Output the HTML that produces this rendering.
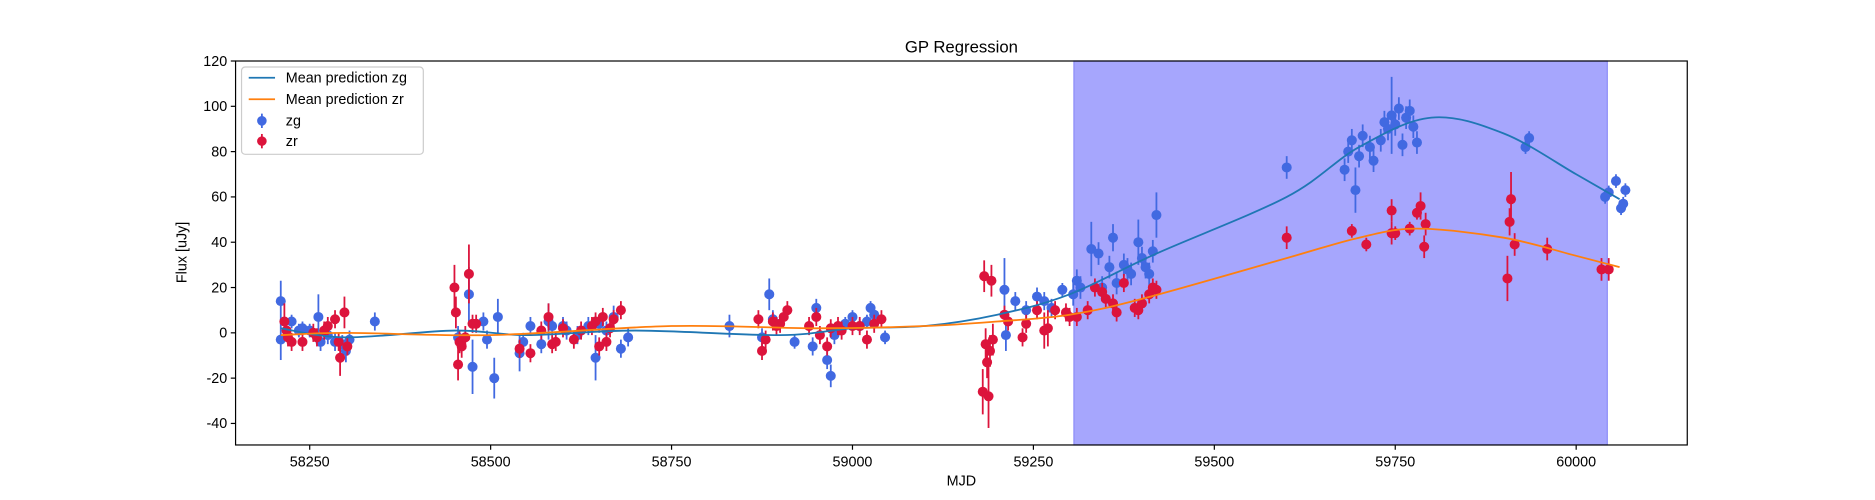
<!DOCTYPE html>
<html><head><meta charset="utf-8"><style>
html,body{margin:0;padding:0;background:#fff;width:1875px;height:500px;overflow:hidden;}
svg{display:block;position:absolute;left:0;top:0;}
svg text{font-family:"Liberation Sans","DejaVu Sans",sans-serif;fill:#000;}
</style></head><body>
<svg id="chart" width="1875" height="500" viewBox="0 0 1568 418" preserveAspectRatio="none" xmlns="http://www.w3.org/2000/svg">
<rect width="1568" height="418" fill="#fff"/>
<g id="plot"></g>
<text x="804" y="44" text-anchor="middle" font-size="14">GP Regression</text>
<text x="804" y="406" text-anchor="middle" font-size="12">MJD</text>
<text x="156" y="211" text-anchor="middle" font-size="12" transform="rotate(-90 156 211)">Flux [uJy]</text>
<g>
<rect x="202" y="56" width="152" height="73" rx="3" fill="#fff" fill-opacity="0.8" stroke="#ccc"/>
<line x1="208" x2="230" y1="65" y2="65" stroke="#1f77b4" stroke-width="1.5"/>
<text x="239" y="69" font-size="12">Mean prediction zg</text>
<line x1="208" x2="230" y1="83" y2="83" stroke="#ff7f0e" stroke-width="1.5"/>
<text x="239" y="87" font-size="12">Mean prediction zr</text>
<line x1="219" x2="219" y1="95" y2="107" stroke="#4169e1" stroke-width="1.5"/>
<circle cx="219" cy="101" r="4" fill="#4169e1"/>
<text x="239" y="105" font-size="12">zg</text>
<line x1="219" x2="219" y1="112" y2="124" stroke="#dc143c" stroke-width="1.5"/>
<circle cx="219" cy="118" r="4" fill="#dc143c"/>
<text x="239" y="122" font-size="12">zr</text>
</g>
</svg>
<script>
const zgMjd=[58210,58210,58225,58235,58240,58250,58262,58265,58275,58285,58295,58300,58305,58340,58455,58470,58475,58490,58495,58505,58510,58540,58545,58555,58570,58580,58585,58600,58605,58620,58635,58645,58650,58660,58670,58680,58690,58830,58875,58885,58890,58920,58945,58950,58965,58970,58975,58980,58990,59000,59010,59020,59025,59030,59045,59210,59212,59225,59240,59255,59265,59275,59290,59305,59310,59315,59330,59340,59345,59355,59360,59365,59375,59380,59385,59395,59400,59405,59410,59415,59420,59600,59680,59685,59690,59695,59700,59705,59715,59720,59730,59735,59740,59745,59750,59755,59760,59765,59770,59775,59780,59930,59935,60040,60045,60055,60062,60065,60068];
const zgFlux=[14,-3,5,1,2,1,7,-4,-1,-4,-5,-8,-3,5,-2,17,-15,5,-3,-20,7,-9,-4,3,-5,5,3,3,1,-1,3,-11,4,1,7,-7,-2,3,-2,17,6,-4,-6,11,-12,-19,-1,2,4,7,3,5,11,8,-2,19,-1,14,10,16,14,11,19,17,23,20,37,35,20,29,42,22,30,28,26,40,33,29,26,36,52,73,72,80,85,63,78,87,82,76,85,93,90,96,92,99,83,95,98,91,84,82,86,60,62,67,55,57,63];
const zgErr=[9,9,3,3,3,3,10,4,4,4,4,5,4,4,5,12,12,4,4,9,8,8,4,4,4,8,4,4,4,4,4,10,4,4,5,4,4,5,4,7,4,3,4,4,4,5,4,3,3,3,3,3,3,3,3,14,7,4,4,4,4,4,3,5,5,5,12,5,5,5,6,5,5,5,5,10,5,5,5,5,10,5,5,5,5,10,5,5,5,5,5,5,5,17,5,5,5,5,5,5,5,3,3,3,3,3,3,3,3];
const zrMjd=[58215,58218,58220,58225,58240,58255,58260,58270,58275,58285,58290,58292,58298,58302,58450,58452,58455,58457,58460,58465,58470,58475,58480,58540,58555,58570,58580,58585,58590,58600,58615,58625,58640,58645,58650,58655,58660,58665,58670,58680,58870,58875,58880,58890,58895,58900,58905,58910,58940,58950,58955,58965,58970,58980,58985,59000,59010,59020,59030,59040,59180,59182,59184,59186,59188,59190,59192,59194,59210,59215,59235,59240,59255,59265,59270,59280,59295,59300,59310,59325,59335,59345,59350,59360,59365,59375,59390,59395,59400,59410,59415,59420,59600,59690,59710,59745,59745,59750,59770,59780,59785,59790,59792,59905,59908,59910,59915,59960,60035,60045];
const zrFlux=[5,1,-2,-4,-4,0,-2,1,3,6,-4,-11,9,-6,20,9,-14,-4,-6,-2,26,4,4,-7,-9,1,7,-5,-4,2,-3,1,3,5,-6,7,-4,2,6,10,6,-8,-3,5,3,4,7,10,3,7,-1,-6,2,3,1,3,3,-3,4,6,-26,25,-5,-13,-28,-8,23,-3,8,5,-2,4,10,1,2,10,9,7,7,10,20,18,15,13,9,22,11,10,13,17,20,19,42,45,39,44,54,44,46,53,56,38,48,24,49,59,39,37,28,28];
const zrErr=[8,4,4,4,4,4,4,4,4,4,4,8,7,4,10,7,7,5,5,5,13,4,4,4,4,4,6,4,4,4,4,4,4,4,4,4,4,4,4,4,4,4,4,4,4,4,4,4,4,4,4,4,4,4,4,4,4,4,4,4,10,7,7,7,14,7,7,7,4,4,4,4,4,8,8,4,4,4,4,4,4,4,4,4,4,4,4,4,4,4,4,4,5,3,3,5,5,3,3,3,6,5,5,10,6,12,5,5,5,5];
const zgMeanX=[58210,58300,58450,58550,58700,58900,59000,59100,59200,59300,59420,59600,59700,59800,59900,60000,60060];
const zgMeanY=[2,-2,1,-1,1,-1,2,3,8,17,35,60,82,95,88,70,59];
const zrMeanX=[58210,58300,58500,58750,58950,59100,59200,59300,59400,59600,59700,59780,59900,60000,60060];
const zrMeanY=[-1,0,-1,3,2,3,5,8,15,33,42,46,42,34,29];
const xTicks=[58250,58500,58750,59000,59250,59500,59750,60000];
const yTicks=[-40,-20,0,20,40,60,80,100,120];
const band=[59306,60043];

const L=197,R=1411,T=51,B=372;
const xS=v=>259+(v-58250)*151.3/250;
const yS=v=>278.25-v*37.875/20;
const NS="http://www.w3.org/2000/svg";
const g=document.getElementById('plot');
function mk(t,a,p){const e=document.createElementNS(NS,t);for(const k in a)e.setAttribute(k,a[k]);(p||g).appendChild(e);return e;}

const bandEl=mk('rect',{x:xS(band[0]),y:T,width:xS(band[1])-xS(band[0]),height:B-T,fill:'#a6a6fd',stroke:'#8c8cf8'});



function curve(xs,ys,color,name){
  const pts=xs.map((x,i)=>[xS(x),yS(ys[i])]);
  let d='M'+pts[0][0]+','+pts[0][1];
  for(let i=0;i<pts.length-1;i++){
    const p0=pts[Math.max(0,i-1)],p1=pts[i],p2=pts[i+1],p3=pts[Math.min(pts.length-1,i+2)];
    d+=' C'+(p1[0]+(p2[0]-p0[0])/6)+','+(p1[1]+(p2[1]-p0[1])/6)+' '+(p2[0]-(p3[0]-p1[0])/6)+','+(p2[1]-(p3[1]-p1[1])/6)+' '+p2[0]+','+p2[1];
  }
  const e=mk('path',{d:d,fill:'none',stroke:color,'stroke-width':1.5});
  
  
}
function points(xs,ys,es,color,name){
  const grp=mk('g',{});
  
  
  xs.forEach((x,i)=>{
    mk('line',{x1:xS(x),x2:xS(x),y1:yS(ys[i]-es[i]),y2:yS(ys[i]+es[i]),stroke:color,'stroke-width':1.5},grp);
    const c=mk('circle',{cx:xS(x),cy:yS(ys[i]),r:4.2,fill:color},grp);
    
    
  });
}
points(zgMjd,zgFlux,zgErr,'#4169e1','zg-points');
points(zrMjd,zrFlux,zrErr,'#dc143c','zr-points');
curve(zgMeanX,zgMeanY,'#1f77b4','zg-mean-line');
curve(zrMeanX,zrMeanY,'#ff7f0e','zr-mean-line');

const frame=mk('rect',{x:L,y:T,width:R-L,height:B-T,fill:'none',stroke:'#000','stroke-width':1});


xTicks.forEach(v=>{
  mk('line',{x1:xS(v),x2:xS(v),y1:B,y2:B+4,stroke:'#000'});
  const t=mk('text',{x:xS(v),y:B+18,'text-anchor':'middle','font-size':12});
  t.textContent=v;
  
  
});
yTicks.forEach(v=>{
  mk('line',{x1:L-4,x2:L,y1:yS(v),y2:yS(v),stroke:'#000'});
  const t=mk('text',{x:L-7,y:yS(v)+4,'text-anchor':'end','font-size':12});
  t.textContent=v;
  
  
});
</script>
</body></html>
